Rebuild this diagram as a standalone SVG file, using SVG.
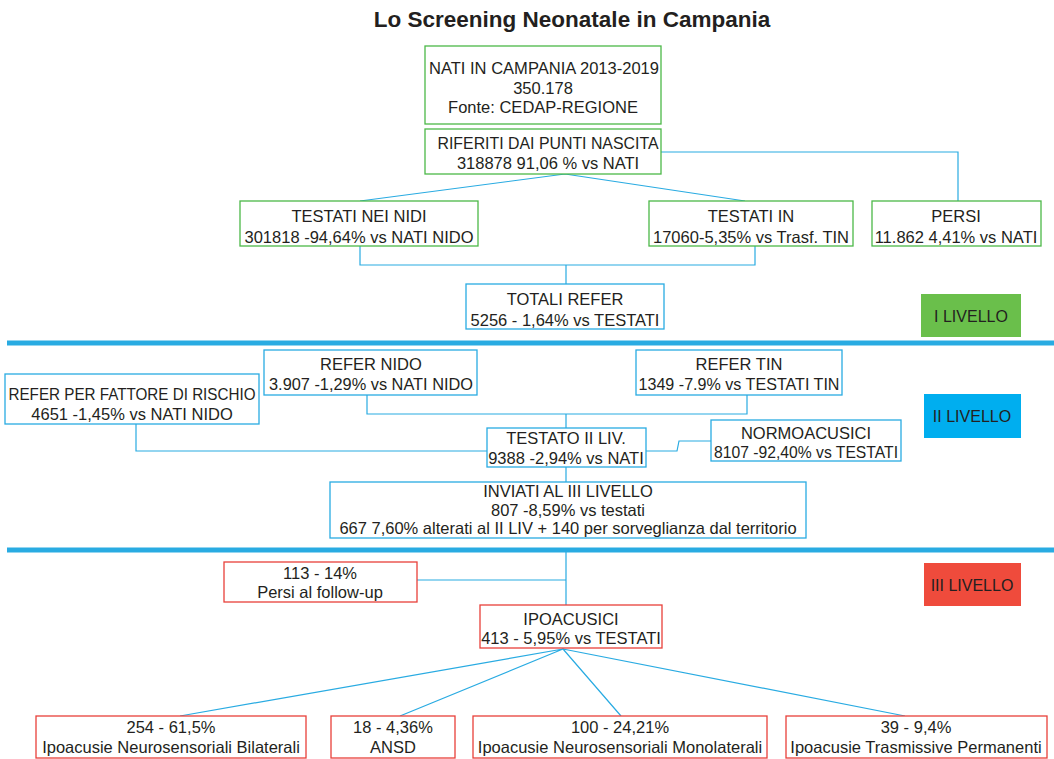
<svg xmlns="http://www.w3.org/2000/svg" width="1054" height="759" viewBox="0 0 1054 759">
  <style>
    text { font-family: "Liberation Sans", Arial, sans-serif; font-size: 16.5px; fill: #231f20; text-anchor: middle; }
    .title { font-size: 22.5px; font-weight: bold; }
    .box { fill: #ffffff; stroke-width: 1.3; }
    .g { stroke: #4cb848; }
    .b { stroke: #29abe2; }
    .r { stroke: #e8403a; }
    .conn { fill: none; stroke: #29abe2; stroke-width: 1.2; }
    .sep { stroke: #29abe2; stroke-width: 5; }
    .lvl { font-size: 16px; }
  </style>
  <rect width="1054" height="759" fill="#ffffff"/>
  <text class="title" x="572" y="27">Lo Screening Neonatale in Campania</text>

  <!-- connectors -->
  <g id="connectors">
    <path class="conn" d="M565,174 L360,201 M565,174 L745,201"/>
    <path class="conn" d="M661,152 H958 V201"/>
    <path class="conn" d="M360,246 V265 H755 V246 M566,265 V284"/>
    <path class="conn" d="M367,395 V414 H747 V395 M566,414 V428"/>
    <path class="conn" d="M136,424 V451 H487"/>
    <path class="conn" d="M646,451 H677 L679,441 H711"/>
    <path class="conn" d="M566,467 V482"/>
    <path class="conn" d="M566,552 V605 M417,580 H566"/>
    <path class="conn" d="M563,649 L180,716 M563,649 L400,716 M563,649 L621,716 M563,649 L905,716"/>
  </g>

  <!-- level separators -->
  <line class="sep" x1="7" y1="343" x2="1054" y2="343"/>
  <line class="sep" x1="7" y1="550" x2="1054" y2="550"/>

  <!-- level I -->
  <g id="nati">
    <rect class="box g" x="425" y="46" width="236" height="78"/>
    <text x="544" y="74" textLength="230" lengthAdjust="spacingAndGlyphs">NATI IN CAMPANIA 2013-2019</text>
    <text x="543" y="94">350.178</text>
    <text x="543" y="113">Fonte: CEDAP-REGIONE</text>
  </g>
  <g id="riferiti">
    <rect class="box g" x="425" y="129" width="236" height="45"/>
    <text x="548" y="149" textLength="221" lengthAdjust="spacingAndGlyphs">RIFERITI DAI PUNTI NASCITA</text>
    <text x="548" y="169">318878 91,06 % vs NATI</text>
  </g>
  <g id="testati-nidi">
    <rect class="box g" x="240" y="201" width="238" height="45"/>
    <text x="359" y="222">TESTATI NEI NIDI</text>
    <text x="359" y="243">301818 -94,64% vs NATI NIDO</text>
  </g>
  <g id="testati-in">
    <rect class="box g" x="649" y="201" width="204" height="45"/>
    <text x="751" y="222">TESTATI IN</text>
    <text x="751" y="243">17060-5,35% vs Trasf. TIN</text>
  </g>
  <g id="persi">
    <rect class="box g" x="872" y="201" width="169" height="45"/>
    <text x="956" y="222">PERSI</text>
    <text x="956" y="243">11.862 4,41% vs NATI</text>
  </g>
  <g id="totali-refer">
    <rect class="box b" x="466" y="284" width="198" height="45"/>
    <text x="565" y="305">TOTALI REFER</text>
    <text x="565" y="326">5256 - 1,64% vs TESTATI</text>
  </g>
  <g id="livello-1">
    <rect x="921" y="294" width="100" height="43" fill="#6abf4b"/>
    <text class="lvl" x="971" y="322">I LIVELLO</text>
  </g>

  <!-- level II -->
  <g id="refer-nido">
    <rect class="box b" x="264" y="350" width="213" height="45"/>
    <text x="371" y="370">REFER NIDO</text>
    <text x="371" y="390" textLength="204" lengthAdjust="spacingAndGlyphs">3.907 -1,29% vs NATI NIDO</text>
  </g>
  <g id="refer-tin">
    <rect class="box b" x="636" y="350" width="206" height="45"/>
    <text x="739" y="370">REFER TIN</text>
    <text x="739" y="390" textLength="201" lengthAdjust="spacingAndGlyphs">1349 -7.9% vs TESTATI TIN</text>
  </g>
  <g id="refer-rischio">
    <rect class="box b" x="5" y="374" width="254" height="50"/>
    <text x="132" y="400" textLength="247" lengthAdjust="spacingAndGlyphs">REFER PER FATTORE DI RISCHIO</text>
    <text x="132" y="420">4651 -1,45% vs NATI NIDO</text>
  </g>
  <g id="livello-2">
    <rect x="924" y="394" width="97" height="44" fill="#00aeef"/>
    <text class="lvl" x="972" y="422">II LIVELLO</text>
  </g>
  <g id="testato-2">
    <rect class="box b" x="487" y="428" width="159" height="39"/>
    <text x="566" y="444">TESTATO II LIV.</text>
    <text x="566" y="464">9388 -2,94% vs NATI</text>
  </g>
  <g id="normoacusici">
    <rect class="box b" x="711" y="420" width="190" height="41"/>
    <text x="806" y="439">NORMOACUSICI</text>
    <text x="806" y="458" textLength="184" lengthAdjust="spacingAndGlyphs">8107 -92,40% vs TESTATI</text>
  </g>
  <g id="inviati">
    <rect class="box b" x="330" y="482" width="476" height="56"/>
    <text x="568" y="497">INVIATI AL III LIVELLO</text>
    <text x="568" y="516">807 -8,59% vs testati</text>
    <text x="568" y="534">667 7,60% alterati al II LIV + 140 per sorveglianza dal territorio</text>
  </g>

  <!-- level III -->
  <g id="persi-followup">
    <rect class="box r" x="224" y="562" width="193" height="40"/>
    <text x="320" y="579">113 - 14%</text>
    <text x="320" y="598">Persi al follow-up</text>
  </g>
  <g id="livello-3">
    <rect x="924" y="563" width="97" height="43" fill="#ef4b3c"/>
    <text class="lvl" x="972" y="591">III LIVELLO</text>
  </g>
  <g id="ipoacusici">
    <rect class="box r" x="480" y="605" width="182" height="43"/>
    <text x="571" y="625">IPOACUSICI</text>
    <text x="571" y="644">413 - 5,95% vs TESTATI</text>
  </g>
  <g id="bilaterali">
    <rect class="box r" x="36" y="716" width="270" height="42"/>
    <text x="171" y="733">254 - 61,5%</text>
    <text x="171" y="753">Ipoacusie Neurosensoriali Bilaterali</text>
  </g>
  <g id="ansd">
    <rect class="box r" x="331" y="716" width="124" height="42"/>
    <text x="393" y="733">18 - 4,36%</text>
    <text x="393" y="753">ANSD</text>
  </g>
  <g id="monolaterali">
    <rect class="box r" x="473" y="716" width="294" height="42"/>
    <text x="620" y="733">100 - 24,21%</text>
    <text x="620" y="753">Ipoacusie Neurosensoriali Monolaterali</text>
  </g>
  <g id="trasmissive">
    <rect class="box r" x="786" y="716" width="261" height="42"/>
    <text x="916" y="733">39 - 9,4%</text>
    <text x="916" y="753">Ipoacusie Trasmissive Permanenti</text>
  </g>
</svg>
